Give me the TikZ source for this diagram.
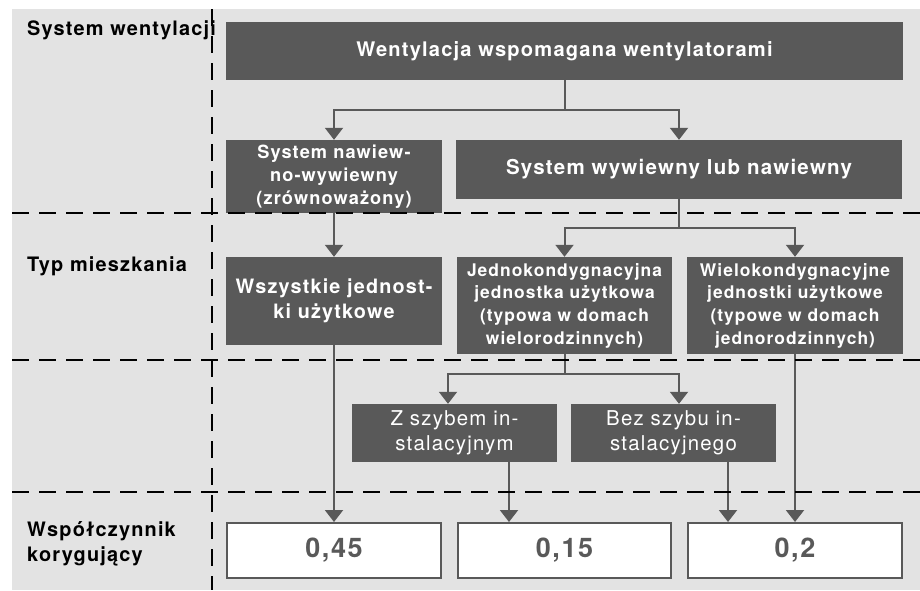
\documentclass[tikz,border=0pt]{standalone}
\usepackage{fontspec}
\setmainfont{TeX Gyre Heros}[LetterSpace=6]
\usetikzlibrary{arrows.meta,calc}
\definecolor{dg}{HTML}{595959}
\definecolor{bg}{HTML}{E3E3E3}
\begin{document}
\begin{tikzpicture}[x=1pt,y=-1pt,
  dbox/.style={fill=dg, text=white, inner sep=0pt, align=center},
  vbox/.style={fill=white, draw=dg, line width=2pt, text=dg, inner sep=0pt,
    minimum width=214pt, minimum height=55pt,
    font=\fontsize{27}{30}\selectfont\bfseries},
  conn/.style={draw=dg, line width=2pt, -{Triangle[width=18pt,length=12pt]}},
  link/.style={draw=dg, line width=2pt},
  sep/.style={black, line width=2.6pt, dash pattern=on 17pt off 10pt},
  lab/.style={font=\fontsize{19.9}{25}\selectfont\bfseries, align=left, anchor=base west, inner sep=0pt}]
\useasboundingbox (0,0) rectangle (920,590);
\fill[bg] (12,9) rectangle (920,590);

% boxes
\node[dbox, minimum width=677pt, minimum height=58pt,
  font=\fontsize{20.1}{24}\selectfont\bfseries] (top) at (564.5,51)
  {Wentylacja wspomagana wentylatorami};
\node[dbox, minimum width=216pt, minimum height=73pt,
  font=\fontsize{18.2}{23}\selectfont\bfseries] (sys1) at (334,176.5)
  {System nawiew-\\no-wywiewny\\(zrównoważony)};
\node[dbox, minimum width=446pt, minimum height=59pt,
  font=\fontsize{20.5}{24}\selectfont\bfseries] (sys2) at (679,169.5)
  {System wywiewny lub nawiewny};
\node[dbox, minimum width=216pt, minimum height=88pt,
  font=\fontsize{19.8}{25}\selectfont\bfseries] (wsz) at (334,301)
  {Wszystkie jednost-\\ki użytkowe};
\node[dbox, minimum width=215pt, minimum height=97pt,
  font=\fontsize{17.4}{22.7}\selectfont\bfseries] (jedno) at (564.5,305.5)
  {Jednokondygnacyjna\\jednostka użytkowa\\(typowa w domach\\wielorodzinnych)};
\node[dbox, minimum width=216pt, minimum height=97pt,
  font=\fontsize{17.4}{22.7}\selectfont\bfseries] (wielo) at (795,305.5)
  {Wielokondygnacyjne\\jednostki użytkowe\\(typowe w domach\\jednorodzinnych)};
\node[dbox, minimum width=205pt, minimum height=58pt,
  font=\fontsize{20.4}{25}\selectfont] (zs) at (454.5,433)
  {Z szybem in-\\stalacyjnym};
\node[dbox, minimum width=205pt, minimum height=58pt,
  font=\fontsize{20.4}{25}\selectfont] (bez) at (673.5,433)
  {Bez szybu in-\\stalacyjnego};
\node[vbox] (v1) at (334,550.5) {0,45};
\node[vbox, minimum width=213pt] (v2) at (564.5,550.5) {0,15};
\node[vbox] (v3) at (795,550.5) {0,2};

% connectors
\draw[link] (top.south) -- ++(0,30) coordinate (j1);
\draw[conn] (j1) -| (sys1.north);
\draw[conn] (j1) -| (sys2.north);
\draw[conn] (sys1.south) -- (wsz.north);
\draw[link] (sys2.south) -- ++(0,29) coordinate (j2);
\draw[conn] (j2) -| (jedno.north);
\draw[conn] (j2) -| (wielo.north);
\draw[link] (jedno.south) -- ++(0,20) coordinate (j3);
\draw[conn] (j3) -| ([xshift=-6.5pt]zs.north);
\draw[conn] (j3) -| ([xshift=5.5pt]bez.north);
\draw[conn] (wsz.south) -- (v1.north);
\draw[conn] ([xshift=54.5pt]zs.south) -- ([xshift=54.5pt]zs.south |- v2.north);
\draw[conn] ([xshift=54.5pt]bez.south) -- ([xshift=54.5pt]bez.south |- v3.north);
\draw[conn] (wielo.south) -- (v3.north);

% labels
\node[lab] (l1) at (27,35) {System wentylacji};
\node[lab] (l2) at (27,271) {Typ mieszkania};
\node[lab] (l3) at (27,536) {Współczynnik};
\node[lab] (l4) at (27,561) {korygujący};

% separators
\draw[sep] (212,9) -- (212,590);
\draw[sep] (12,213) -- (920,213);
\draw[sep] (12,360) -- (920,360);
\draw[sep] (12,492) -- (920,492);
\end{tikzpicture}
\end{document}
